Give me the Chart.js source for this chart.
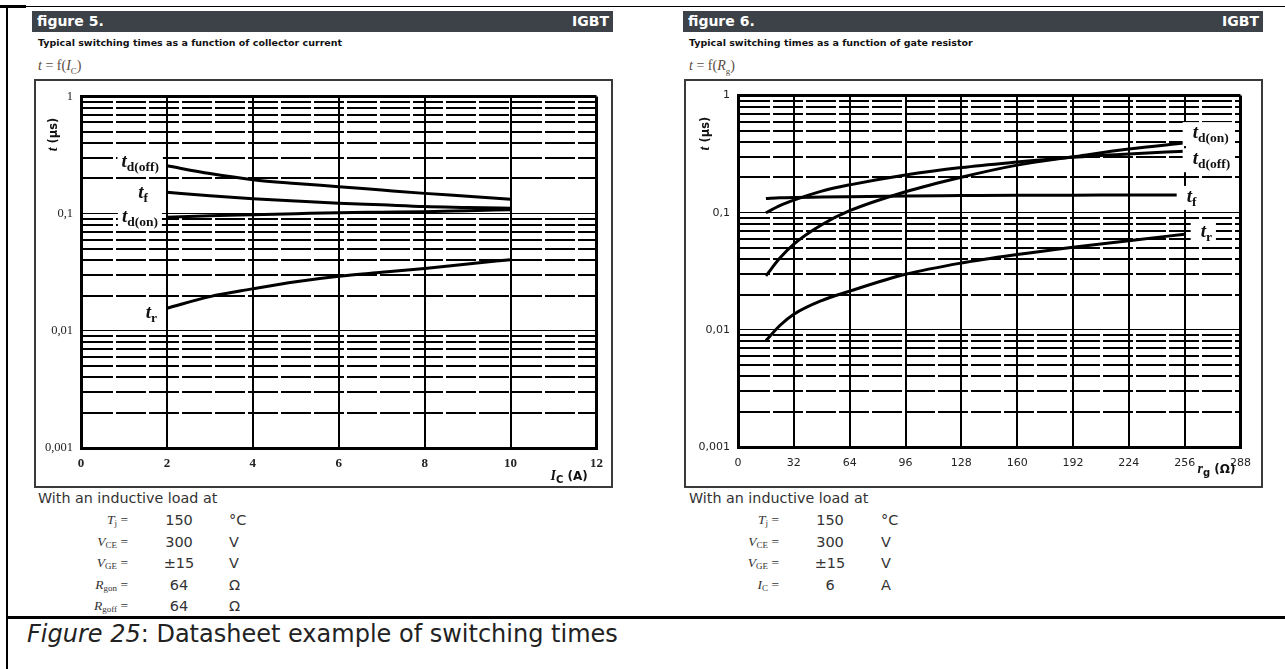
<!DOCTYPE html>
<html>
<head>
<meta charset="utf-8">
<script src="https://cdn.jsdelivr.net/npm/chart.js@4.4.1/dist/chart.umd.min.js"></script>
<style>
body { margin:0; width:1285px; height:669px; background:#fff; position:relative; overflow:hidden; font-family:"DejaVu Sans", sans-serif; color:#333; }
.a { position:absolute; white-space:nowrap; }
.line { position:absolute; background:#000; }
.hbar { position:absolute; height:21px; background:#3d4249; color:#fff; font-weight:bold; font-size:14px; line-height:21px; padding:0 5px; box-sizing:border-box; }
.hbar span { position:absolute; right:4px; top:0; }
.sub { font-weight:bold; font-size:9.5px; color:#111; }
.fx { font-family:"Liberation Serif", serif; font-size:14px; color:#5a4b40; }
.box { position:absolute; border:2px solid #3a3a3a; box-sizing:border-box; width:579px; height:409px; top:79px; }
.box canvas { position:absolute; left:0; top:0; }
.lbl { position:absolute; text-align:right; width:90px; font-family:"Liberation Serif", serif; font-size:13.5px; color:#333; line-height:16px; }
.lbl sub { font-size:9px; vertical-align:-2px; }
.val { position:absolute; text-align:center; width:60px; font-size:14.5px; line-height:16px; }
.unit { position:absolute; font-size:14.5px; line-height:16px; }
.note { position:absolute; font-size:14.3px; color:#333; }
</style>
</head>
<body>
<div class="line" style="left:0;top:6px;width:1285px;height:1px;"></div>
<div class="line" style="left:0;top:5px;width:26px;height:3px;"></div>
<div class="line" style="left:6px;top:6px;width:2px;height:663px;"></div>
<div class="line" style="left:6px;top:616px;width:1279px;height:3px;"></div>

<div class="hbar" style="left:32px;top:11px;width:581px;">figure 5.<span>IGBT</span></div>
<div class="a sub" style="left:38px;top:37px;">Typical switching times as a function of collector current</div>
<div class="a fx" style="left:38px;top:58px;"><i>t</i> = f(<i>I</i><sub style="font-size:9px">C</sub>)</div>
<div class="box" style="left:34px;"><canvas id="fig5" width="575" height="405"></canvas></div>

<div class="hbar" style="left:683px;top:11px;width:580px;">figure 6.<span>IGBT</span></div>
<div class="a sub" style="left:689px;top:37px;">Typical switching times as a function of gate resistor</div>
<div class="a fx" style="left:689px;top:58px;"><i>t</i> = f(<i>R</i><sub style="font-size:9px">g</sub>)</div>
<div class="box" style="left:684px;"><canvas id="fig6" width="575" height="405"></canvas></div>

<div class="note" style="left:38px;top:490px;">With an inductive load at</div>
<div class="note" style="left:689px;top:490px;">With an inductive load at</div>
<div id="params"></div>

<div class="a" style="left:27px;top:620px;font-size:24px;color:#222;"><i>Figure 25</i>: Datasheet example of switching times</div>

<script>
// figure 5: switching times vs collector current (A), times in µs
const icA = [2, 3, 4, 5, 6, 7, 8, 9, 10];
const tdOffIc = [0.256, 0.220, 0.195, 0.181, 0.170, 0.159, 0.149, 0.141, 0.133];
const tfIc = [0.152, 0.142, 0.134, 0.128, 0.123, 0.119, 0.115, 0.113, 0.111];
const tdOnIc = [0.093, 0.096, 0.098, 0.100, 0.102, 0.103, 0.104, 0.106, 0.108];
const trIc = [0.0156, 0.0196, 0.0228, 0.0262, 0.0292, 0.0316, 0.0341, 0.0372, 0.0405];

// figure 6: switching times vs gate resistor (ohm)
const rgOhm = [16, 24, 32, 48, 64, 96, 128, 160, 192, 224, 256];
const tdOnRg = [0.0289, 0.041, 0.054, 0.079, 0.104, 0.151, 0.201, 0.255, 0.300, 0.350, 0.393];
const tdOffRg = [0.100, 0.115, 0.128, 0.153, 0.173, 0.210, 0.243, 0.271, 0.298, 0.318, 0.335];
const tfRg = [0.132, 0.134, 0.135, 0.136, 0.137, 0.139, 0.140, 0.141, 0.141, 0.142, 0.142];
const trRg = [0.0081, 0.0109, 0.0136, 0.0178, 0.0214, 0.0298, 0.0372, 0.0440, 0.0508, 0.0577, 0.0656];

// log axis ticks
const yDecades = [0.001, 0.01, 0.1];
const yMultipliers = [1, 2, 3, 4, 5, 6, 7, 8, 9];
const yMajorValues = [0.001, 0.01, 0.1, 1];
const yMajorLabels = ['0,001', '0,01', '0,1', '1'];

// test conditions under each figure
const paramsIc = [
    ['T', 'j', '150', '°C'],
    ['V', 'CE', '300', 'V'],
    ['V', 'GE', '±15', 'V'],
    ['R', 'gon', '64', 'Ω'],
    ['R', 'goff', '64', 'Ω']
];
const paramsRg = [
    ['T', 'j', '150', '°C'],
    ['V', 'CE', '300', 'V'],
    ['V', 'GE', '±15', 'V'],
    ['I', 'C', '6', 'A']
];

function writeParams(rows, lblRight, valCenter, unitLeft) {
    var html = '';
    rows.forEach(function(r, i) {
        var top = 512 + i * 21.6;
        html += '<div class="lbl" style="left:' + (lblRight - 90) + 'px;top:' + top + 'px"><i>' + r[0] + '</i><sub>' + r[1] + '</sub> =</div>';
        html += '<div class="val" style="left:' + (valCenter - 30) + 'px;top:' + top + 'px">' + r[2] + '</div>';
        html += '<div class="unit" style="left:' + unitLeft + 'px;top:' + top + 'px">' + r[3] + '</div>';
    });
    document.getElementById('params').innerHTML += html;
}
writeParams(paramsIc, 128, 179, 229);
writeParams(paramsRg, 779, 830, 881);

const SERIF = '"Liberation Serif", serif';
const SANS = '"DejaVu Sans", sans-serif';

function richWidth(ctx, parts) {
    var w = 0;
    parts.forEach(function(p) { ctx.font = p.font; w += ctx.measureText(p.t).width; });
    return w;
}

function drawRich(ctx, parts, x, y, align, bg) {
    var w = richWidth(ctx, parts);
    var sx = align === 'right' ? x - w : (align === 'center' ? x - w / 2 : x);
    if (bg) {
        ctx.fillStyle = '#fff';
        ctx.fillRect(sx - bg[0], y - bg[1], w + bg[0] + bg[3], bg[1] + bg[2]);
    }
    ctx.textAlign = 'left';
    ctx.textBaseline = 'alphabetic';
    parts.forEach(function(p) {
        ctx.font = p.font;
        ctx.fillStyle = p.color || '#111';
        ctx.fillText(p.t, sx, y + (p.dy || 0));
        sx += ctx.measureText(p.t).width;
    });
}

function seriesLabel(main, sub) {
    return [
        { t: main, font: 'italic bold 19px ' + SERIF },
        { t: sub, font: 'bold 13.5px ' + SERIF, dy: 4 }
    ];
}

function decorPlugin(opts) {
    return {
        id: 'decor',
        afterDraw: function(chart) {
            var ctx = chart.ctx, xs = chart.scales.x, ys = chart.scales.y, area = chart.chartArea;
            ctx.save();
            // curve labels
            opts.labels.forEach(function(l) {
                var data = chart.data.datasets[l.ds].data;
                var pt = l.at < 0 ? data[data.length - 1] : data[l.at];
                var px = xs.getPixelForValue(pt.x) + l.dx;
                var py = ys.getPixelForValue(pt.y) + l.dy;
                drawRich(ctx, seriesLabel('t', l.sub), px, py, opts.align, opts.bg);
            });
            // y axis title
            ctx.translate(area.left + opts.yTitle[0], area.top + opts.yTitle[1]);
            ctx.rotate(-Math.PI / 2);
            drawRich(ctx, [
                { t: 't', font: 'italic bold 14px ' + SERIF },
                { t: ' (µs)', font: 'bold 11.5px ' + SANS }
            ], 0, 4, 'center');
            ctx.restore();
            // x axis title
            drawRich(ctx, opts.xTitle, area.right + opts.xTitlePos[0], area.bottom + opts.xTitlePos[1], 'left');
        }
    };
}

function makeDatasets(xs, series) {
    return series.map(function(s) {
        return {
            label: s[0],
            data: xs.map(function(x, i) { return { x: x, y: s[1][i] }; }),
            borderColor: '#000',
            borderWidth: 3,
            pointRadius: 0,
            fill: false,
            cubicInterpolationMode: 'monotone'
        };
    });
}

function makeChart(id, cfg) {
    var ctx = document.getElementById(id).getContext('2d');
    return new Chart(ctx, {
        type: 'line',
        data: { datasets: makeDatasets(cfg.xs, cfg.series) },
        options: {
            responsive: false,
            animation: false,
            events: [],
            layout: { padding: { left: 0, top: 7, right: cfg.padRight, bottom: 0 } },
            plugins: { legend: { display: false }, tooltip: { enabled: false } },
            scales: {
                x: {
                    type: 'linear',
                    min: 0,
                    max: cfg.xMax,
                    afterFit: function(scale) { scale.height = cfg.xHeight; },
                    ticks: {
                        stepSize: cfg.xStep,
                        padding: cfg.xPad,
                        color: '#222',
                        font: cfg.xFont,
                        maxRotation: 0,
                        autoSkip: false
                    },
                    grid: {
                        color: '#000',
                        drawTicks: false,
                        lineWidth: function(c) { return c.tick && c.tick.value === cfg.xMax ? 3 : 2; }
                    },
                    border: { display: true, color: '#000', width: 3 }
                },
                y: {
                    type: 'logarithmic',
                    min: 0.001,
                    max: 1,
                    afterFit: function(scale) { scale.width = cfg.yWidth; },
                    afterBuildTicks: function(scale) {
                        var ticks = [];
                        yDecades.forEach(function(d) {
                            yMultipliers.forEach(function(m) {
                                ticks.push({ value: d * m, major: m === 1 });
                            });
                        });
                        ticks.push({ value: 1, major: true });
                        scale.ticks = ticks;
                    },
                    ticks: {
                        autoSkip: false,
                        padding: 8,
                        color: '#222',
                        font: cfg.yFont,
                        callback: function(v) {
                            for (var i = 0; i < yMajorValues.length; i++) {
                                if (Math.abs(v - yMajorValues[i]) < yMajorValues[i] * 1e-6) return yMajorLabels[i];
                            }
                            return '';
                        }
                    },
                    grid: {
                        color: '#000',
                        drawTicks: false,
                        lineWidth: function(c) {
                            if (!c.tick) return 2;
                            if (c.tick.value >= 0.9999) return 3;
                            return c.tick.major ? 1 : 2;
                        }
                    },
                    border: {
                        display: true,
                        color: '#000',
                        width: 3,
                        dash: function(c) { return c.tick && !c.tick.major ? [30, 3] : []; }
                    }
                }
            }
        },
        plugins: [decorPlugin(cfg.decor)]
    });
}

makeChart('fig5', {
    xs: icA,
    series: [['td(off)', tdOffIc], ['tf', tfIc], ['td(on)', tdOnIc], ['tr', trIc]],
    xMax: 12, xStep: 2, padRight: 13, xHeight: 38, yWidth: 45, xPad: 8,
    xFont: { family: SERIF, size: 13, weight: 'bold' },
    yFont: { family: SERIF, size: 12.5 },
    decor: {
        align: 'right',
        bg: [4, 16, 8, 4],
        labels: [
            { ds: 0, at: 0, sub: 'd(off)', dx: -8, dy: 1 },
            { ds: 1, at: 0, sub: 'f', dx: -19, dy: 6 },
            { ds: 2, at: 0, sub: 'd(on)', dx: -9, dy: 5 },
            { ds: 3, at: 0, sub: 'r', dx: -10, dy: 10 }
        ],
        yTitle: [-28, 38],
        xTitle: [
            { t: 'I', font: 'italic bold 14px ' + SERIF },
            { t: 'C', font: 'bold 10px ' + SANS, dy: 3 },
            { t: ' (A)', font: 'bold 12px ' + SANS }
        ],
        xTitlePos: [-46, 32]
    }
});

makeChart('fig6', {
    xs: rgOhm,
    series: [['td(on)', tdOnRg], ['td(off)', tdOffRg], ['tf', tfRg], ['tr', trRg]],
    xMax: 288, xStep: 32, padRight: 18, xHeight: 39, yWidth: 52, xPad: 10,
    xFont: { family: SANS, size: 11 },
    yFont: { family: SANS, size: 11 },
    decor: {
        align: 'left',
        bg: [10, 16, 8, 4],
        labels: [
            { ds: 0, at: -1, sub: 'd(on)', dx: 8, dy: -5 },
            { ds: 1, at: -1, sub: 'd(off)', dx: 8, dy: 13 },
            { ds: 2, at: -1, sub: 'f', dx: 2, dy: 7 },
            { ds: 3, at: -1, sub: 'r', dx: 16, dy: 3 }
        ],
        yTitle: [-33, 38],
        xTitle: [
            { t: 'r', font: 'italic bold 14px ' + SERIF },
            { t: 'g', font: 'bold 10px ' + SANS, dy: 3 },
            { t: ' (Ω)', font: 'bold 12px ' + SANS }
        ],
        xTitlePos: [-43, 26]
    }
});
</script>
</body>
</html>
